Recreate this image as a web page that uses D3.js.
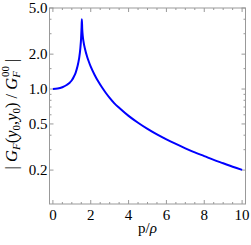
<!DOCTYPE html>
<html>
<head>
<meta charset="utf-8">
<script src="https://cdn.jsdelivr.net/npm/d3@7"></script>
<style>
  body { margin: 0; background: #fff; }
  text { font-family: "Liberation Serif", "DejaVu Serif", serif; }
</style>
</head>
<body>
<svg id="chart" width="251" height="245"></svg>
<script>

//////////////////////
// Data
//////////////////////

var pValues = [0, 0.25, 0.5, 0.75, 0.9, 1.0, 1.1, 1.2, 1.3, 1.38, 1.45, 1.49, 1.515, 1.53,
               1.55, 1.58, 1.62, 1.7, 1.8, 1.9, 2.0, 2.2, 2.4, 2.6, 2.8, 3.0, 3.25, 3.5,
               4.0, 4.5, 5.0, 5.5, 6.0, 6.5, 7.0, 7.5, 8.0, 8.5, 9.0, 9.5, 10.0];
var gRatio  = [1.00, 1.009, 1.037, 1.09, 1.14, 1.19, 1.27, 1.38, 1.57, 1.82, 2.24, 2.75, 3.39, 4.0,
               3.3, 2.85, 2.55, 2.2, 1.92, 1.72, 1.56, 1.33, 1.16, 1.03, 0.925, 0.84, 0.753, 0.69,
               0.587, 0.512, 0.453, 0.406, 0.368, 0.336, 0.308, 0.284, 0.264, 0.245, 0.229, 0.214, 0.201];

var xMajorTicks = [0, 2, 4, 6, 8, 10];
var yMajorTicks = [0.2, 0.5, 1.0, 2.0, 5.0];
var yMinorTicks = [0.3, 0.4, 0.6, 0.7, 0.8, 0.9, 1.5, 3, 4];

//////////////////////
// Layout
//////////////////////

var svg = d3.select("#chart");
var plotL = 49.5, plotR = 245.5, plotT = 8, plotB = 204;

var x = d3.scaleLinear().domain([-0.18, 10.18]).range([plotL, plotR]);
var y = d3.scaleLog().domain([0.102, 5]).range([plotB, plotT]);

var frameColor = "#999";

// frame
svg.append("rect")
    .attr("x", plotL).attr("y", plotT)
    .attr("width", plotR - plotL).attr("height", plotB - plotT)
    .attr("fill", "none")
    .attr("stroke", frameColor)
    .attr("stroke-width", 1);

// ticks, pointing inward on all four sides
var xMinor = d3.range(0, 10.01, 0.5).filter(function(v) { return xMajorTicks.indexOf(v) < 0; });
var tickG = svg.append("g").attr("stroke", frameColor).attr("stroke-width", 1);

function xTick(v, len) {
    tickG.append("line").attr("x1", x(v)).attr("x2", x(v)).attr("y1", plotB).attr("y2", plotB - len);
    tickG.append("line").attr("x1", x(v)).attr("x2", x(v)).attr("y1", plotT).attr("y2", plotT + len);
}
function yTick(v, len) {
    tickG.append("line").attr("x1", plotL).attr("x2", plotL + len).attr("y1", y(v)).attr("y2", y(v));
    tickG.append("line").attr("x1", plotR).attr("x2", plotR - len).attr("y1", y(v)).attr("y2", y(v));
}
xMajorTicks.forEach(function(v) { xTick(v, 4); });
xMinor.forEach(function(v) { xTick(v, 2); });
yMajorTicks.forEach(function(v) { yTick(v, 4); });
yMinorTicks.forEach(function(v) { yTick(v, 2); });

// tick labels
svg.append("g").selectAll("text")
    .data(xMajorTicks)
    .enter()
    .append("text")
        .attr("x", function(d) { return x(d); })
        .attr("y", plotB + 16)
        .attr("text-anchor", "middle")
        .attr("font-size", 15)
        .text(function(d) { return d; });

svg.append("g").selectAll("text")
    .data(yMajorTicks)
    .enter()
    .append("text")
        .attr("x", plotL - 2)
        .attr("y", function(d) { return y(d) + 5; })
        .attr("text-anchor", "end")
        .attr("font-size", 15)
        .text(function(d) { return d.toFixed(1); });

// axis labels
svg.append("text")
    .attr("x", x(5))
    .attr("y", 233)
    .attr("text-anchor", "middle")
    .attr("font-size", 15)
    .html('p/<tspan font-style="italic">ρ</tspan>');

svg.append("text")
    .attr("transform", "translate(17," + ((plotT + plotB) / 2 + 8) + ") rotate(-90)")
    .attr("text-anchor", "middle")
    .attr("font-size", 16.5)
    .html('| <tspan font-style="italic">G</tspan><tspan font-style="italic" font-size="11" dy="3">F</tspan>' +
          '<tspan dy="-3">(</tspan><tspan font-style="italic">y</tspan><tspan font-size="11" dy="3">0</tspan>' +
          '<tspan dy="-3">,</tspan><tspan font-style="italic">y</tspan><tspan font-size="11" dy="3">0</tspan>' +
          '<tspan dy="-3">) / </tspan><tspan font-style="italic">G</tspan><tspan font-style="italic" font-size="11" dy="3">F</tspan>' +
          '<tspan font-size="11" dx="-6" dy="-11">00</tspan><tspan dy="8"> |</tspan>');

// curve
var line = d3.line()
    .x(function(d, i) { return x(pValues[i]); })
    .y(function(d) { return y(d); })
    .curve(d3.curveMonotoneX);

svg.append("path")
    .datum(gRatio)
    .attr("d", line)
    .attr("fill", "none")
    .attr("stroke", "#0000ff")
    .attr("stroke-width", 2);

</script>
</body>
</html>
